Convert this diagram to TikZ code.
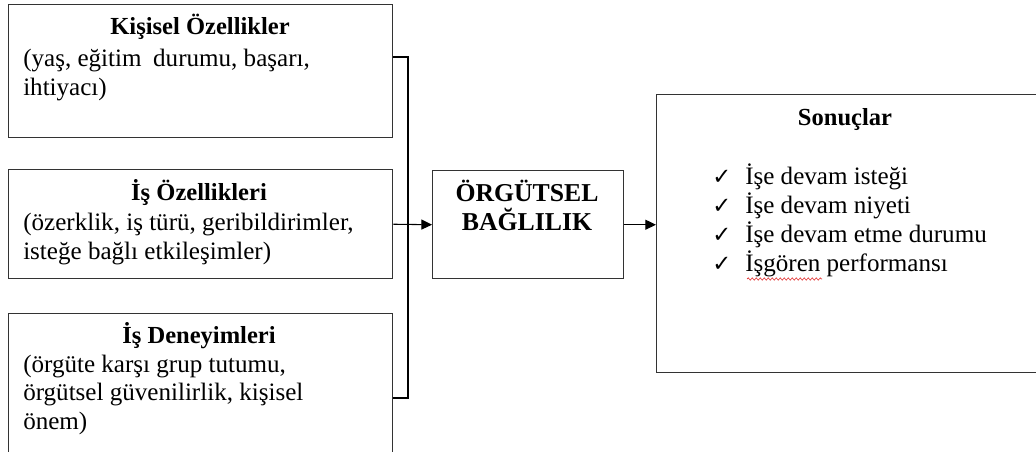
\documentclass[tikz,border=0pt]{standalone}
\usepackage{fontspec}
\setmainfont{Liberation Serif}
\newfontfamily\tickfont{DejaVu Sans}
\usetikzlibrary{arrows.meta,positioning,decorations.pathmorphing}
\definecolor{framegray}{HTML}{333333}
\definecolor{squiggle}{HTML}{E03030}
\tikzset{
  panel/.style={
    rectangle,
    draw=framegray,
    line width=1.1pt,
    inner sep=0pt,
    anchor=north west
  },
  heading/.style={
    font=\fontsize{18.4}{21.75}\selectfont\bfseries,
    inner sep=0pt,
    anchor=base
  },
  body/.style={
    font=\fontsize{18.8}{21.75}\selectfont,
    align=left,
    inner sep=0pt,
    anchor=base west
  },
  link/.style={
    line width=0.8pt,
    draw=black
  },
  arrow/.style={
    link,
    -{Triangle[length=8pt,width=7.5pt]}
  }
}
\newcommand{\tick}{\makebox[24.75pt][l]{\tickfont\fontsize{17}{21.75}\selectfont ✓}}

\begin{document}
\begin{tikzpicture}[x=0.75pt, y=-0.75pt]
\path[use as bounding box] (0,0) rectangle (1036,452);
\clip (0,0) rectangle (1036,452);

% left column: the three antecedent groups
% (multi-line nodes sit on the baseline of their last line)
\node[panel, minimum width=288pt, minimum height=99.75pt] (kisisel) at (8,4) {};
\node[heading] (kisiselbaslik) at (200,35) {Kişisel Özellikler};
\node[body] (kisiselmetin) at (23,95.5) {(yaş, eğitim\hspace{4pt} durumu, başarı,\\ihtiyacı)};

\node[panel, minimum width=288pt, minimum height=81.75pt] (isozellik) at (8,169) {};
\node[heading] (isozellikbaslik) at (199,200.7) {İş Özellikleri};
\node[body] (isozellikmetin) at (23,259.5) {(özerklik, iş türü, geribildirimler,\\isteğe bağlı etkileşimler)};

\node[panel, minimum width=288pt, minimum height=120pt] (deneyim) at (8,313) {};
\node[heading] (deneyimbaslik) at (199,344) {İş Deneyimleri};
\node[body] (deneyimmetin) at (23,430) {(örgüte karşı grup tutumu,\\örgütsel güvenilirlik, kişisel\\önem)};

% middle: commitment
\node[panel, minimum width=143.25pt, minimum height=81pt] (baglilik) at (432,170) {};
\node[heading, align=center, font=\fontsize{19.3}{21.75}\selectfont\bfseries] (bagliliketiket) at (527,231) {ÖRGÜTSEL\\BAĞLILIK};

% right: outcomes
\node[panel, minimum width=300pt, minimum height=208.5pt] (sonuc) at (656,94) {};
\node[heading] (sonucbaslik) at (845,125.7) {Sonuçlar};
\node[body] (sonucliste) at (712,272) {\tick İşe devam isteği\\\tick İşe devam niyeti\\\tick İşe devam etme durumu\\\tick İşgören performansı};

% connectors
\coordinate (bendtop) at (408,57);
\coordinate (bendbottom) at (408,398);
\draw[link] (kisisel.east |- bendtop) -- (bendtop) -- (bendbottom) -- (deneyim.east |- bendbottom);
\draw[arrow] (isozellik.east) -- (baglilik.west);
\draw[arrow] (baglilik.east) -- (sonuc.west |- baglilik.east);

% spell-check squiggle under the last item
\coordinate (squigglestart) at (747,279);
\coordinate (squiggleend) at (822,279);
\draw[squiggle, line width=0.5pt, decorate, decoration={snake, amplitude=0.8pt, segment length=3pt}] (squigglestart) -- (squiggleend);
\end{tikzpicture}
\end{document}
